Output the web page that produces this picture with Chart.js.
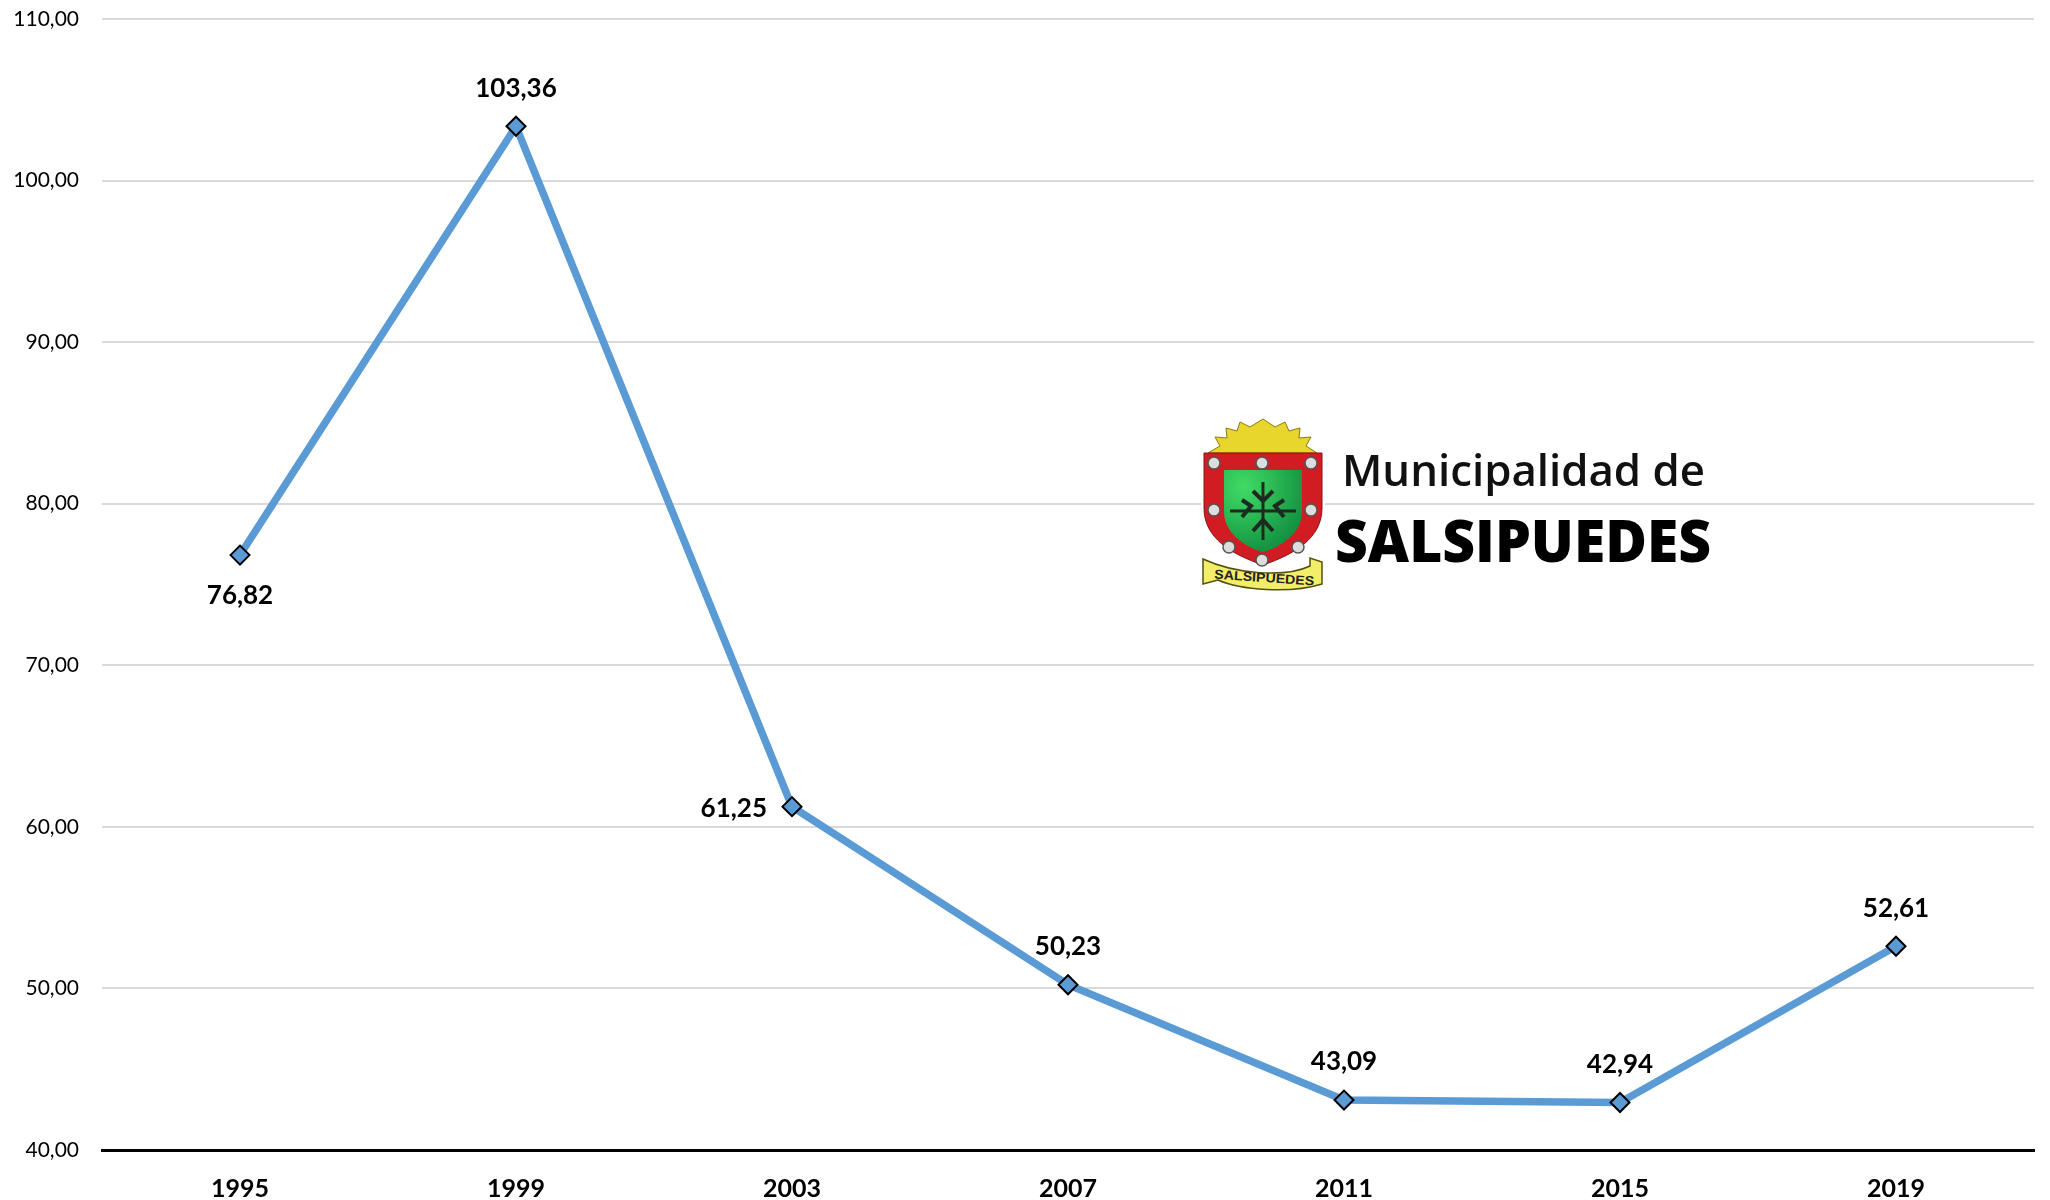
<!DOCTYPE html>
<html><head><meta charset="utf-8">
<script src="https://cdn.jsdelivr.net/npm/chart.js@4"></script>
<style>
html,body{margin:0;padding:0;background:#fff;width:2050px;height:1200px;overflow:hidden}
#wrap{position:relative;width:2050px;height:1200px}
#logo{position:absolute;left:1190px;top:410px}
</style></head><body>
<div id="wrap"><canvas id="c" width="2050" height="1200"></canvas>
<svg id="logo" width="540" height="190" viewBox="0 0 540 190" xmlns="http://www.w3.org/2000/svg">
<defs><radialGradient id="g" cx="25%" cy="20%" r="85%"><stop offset="0" stop-color="#40dc66"/><stop offset="1" stop-color="#129040"/></radialGradient></defs>
<rect x="11" y="5" width="124" height="181" fill="#fff"/>
<polygon points="18,43 30,36 25,27 37,28 36,18 47,21 50,12 60,17 73,9 85,17 95,12 99,21 110,18 109,28 121,27 116,36 127,43" fill="#e9d62c" stroke="#8a7a10" stroke-width="1"/>
<path d="M14,43 H132 V98 C132,128 105,144 73,155 C41,144 14,128 14,98 Z" fill="#d01c22" stroke="#8c1015"/>
<path d="M34,60 H112 V102 C112,122 92,137 73,142 C54,137 34,122 34,102 Z" fill="url(#g)"/>
<g fill="#ddd" stroke="#555" stroke-width="1.5">
<circle cx="24" cy="53" r="6"/><circle cx="72" cy="53" r="6"/><circle cx="121" cy="53" r="6"/>
<circle cx="24" cy="100" r="6"/><circle cx="121" cy="100" r="6"/>
<circle cx="39" cy="137" r="6"/><circle cx="108" cy="137" r="6"/><circle cx="72" cy="150" r="6"/></g>
<path d="M73,72 V130 M40,101 H106" stroke="#1c2a20" stroke-width="3"/>
<path d="M52,90 L61,96 L52,107 M94,90 L85,96 L94,107 M63,121 L73,110 L83,121 M63,81 L73,91 L83,81" fill="none" stroke="#1c2a20" stroke-width="4"/>
<g transform="translate(0,-4)">
<path d="M13,153 C45,168 95,172 120,160 V152 L132,156 V178 C100,188 50,184 28,174 L13,178 Z" fill="#f3ee6a" stroke="#55500f" stroke-width="1.5"/>
<text x="74" y="176" text-anchor="middle" font-family="'Liberation Sans',sans-serif" font-weight="700" font-size="13" fill="#222" textLength="100" lengthAdjust="spacingAndGlyphs" transform="rotate(4 74 176)">SALSIPUEDES</text>
</g>
<text x="152" y="76" font-family="'Open Sans',sans-serif" font-weight="600" font-size="43" fill="#111" textLength="363" lengthAdjust="spacingAndGlyphs">Municipalidad de</text>
<text x="145" y="152" font-family="'Open Sans',sans-serif" font-weight="800" font-size="58" fill="#000" textLength="376" lengthAdjust="spacingAndGlyphs">SALSIPUEDES</text>
</svg></div>
<script>
const years = ['1995','1999','2003','2007','2011','2015','2019'];
const values = [76.82,103.36,61.25,50.23,43.09,42.94,52.61];
const labelPlaces = ['below','above','left','above','above','above','above'];
const yTicks = [40,50,60,70,80,90,100,110];
const fmt = v => v.toFixed(2).replace('.',',');

const pointLabels = {
  id:'pointLabels',
  afterDatasetsDraw(chart){
    const ctx = chart.ctx, pts = chart.getDatasetMeta(0).data;
    ctx.save();
    ctx.font = 'bold 26px Lato';
    ctx.fillStyle = '#000';
    ctx.textBaseline = 'middle';
    pts.forEach((p,i)=>{
      const where = labelPlaces[i];
      ctx.textAlign = where==='left' ? 'right' : 'center';
      const dx = where==='left' ? -25 : 0;
      const dy = where==='above' ? -38 : where==='below' ? 41 : 2;
      ctx.fillText(fmt(values[i]), p.x+dx, p.y+dy);
    });
    ctx.restore();
  }
};

new Chart(document.getElementById('c'),{
  type:'line',
  data:{labels:years,datasets:[{
    data:values,
    borderColor:'#5b9bd5',borderWidth:7.5,tension:0,
    pointStyle:'rectRot',pointRadius:9.5,pointBorderWidth:2,
    pointBackgroundColor:'#5b9bd5',pointBorderColor:'#000'
  }]},
  plugins:[pointLabels],
  options:{
    responsive:false,animation:false,
    layout:{padding:{top:19,right:16,bottom:0,left:0}},
    plugins:{legend:{display:false},tooltip:{enabled:false},title:{display:false}},
    scales:{
      x:{
        offset:true,
        afterFit(s){s.height=50;},
        grid:{display:false,drawTicks:false,offset:true},
        border:{display:true,color:'#000',width:3},
        ticks:{font:{family:'Lato',size:25,weight:'bold'},color:'#000',padding:24,maxRotation:0}
      },
      y:{
        min:40,max:110,
        afterFit(s){s.width=102;s.paddingTop=0;s.paddingBottom=0;},
        afterBuildTicks(s){s.ticks=yTicks.map(v=>({value:v}));},
        grid:{color:'#d9d9d9',lineWidth:2,drawTicks:false},
        border:{display:false},
        ticks:{font:{family:'Lato',size:21},color:'#000',padding:23,callback:v=>fmt(v)}
      }
    }
  }
});
</script></body></html>
